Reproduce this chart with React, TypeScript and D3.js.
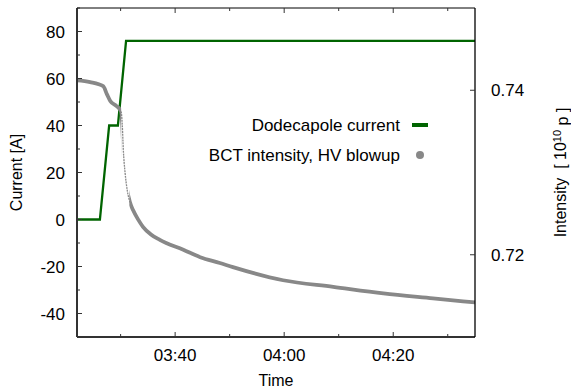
import React from "react";
import * as d3 from "d3";

// time in minutes after 03:00
const currentTime = [22, 26.2, 27.9, 29.5, 31.0, 95.0];
const currentAmps = [0, 0, 40, 40, 76, 76];

const bctTime = [22.0, 24.4, 26.8, 27.5, 28.1, 29.2, 29.7, 30.1, 30.3, 30.5, 30.8, 31.2, 31.7, 32.3, 33.2, 34.1, 35.5, 37.2, 41.5, 44.6, 48.2, 50.6, 59.8, 69.0, 78.2, 87.3, 95.0];
const bctIntensity = [0.7412, 0.7410, 0.7405, 0.7395, 0.7387, 0.7381, 0.7378, 0.7374, 0.7358, 0.7327, 0.7301, 0.7279, 0.7264, 0.7254, 0.7243, 0.7234, 0.7225, 0.7218, 0.7206, 0.7197, 0.7190, 0.7185, 0.7169, 0.7161, 0.7153, 0.7147, 0.7142];

const leftTicks = [-40, -20, 0, 20, 40, 60, 80];
const leftMinor = [-50, -30, -10, 10, 30, 50, 70, 90];
const rightTicks = [0.72, 0.74];
const timeTicks = [40, 60, 80];
const timeMinor = [30, 50, 70, 90];
const timeLabels = ["03:40", "04:00", "04:20"];

const W = 571, H = 389;
const L = 77, R = 475, T = 8, B = 337;
const font = "'Liberation Sans', Arial, sans-serif";

const App = () => {
  const x = d3.scaleLinear().domain([22, 95]).range([L, R]);
  const yl = d3.scaleLinear().domain([-50, 90]).range([B, T]);
  const yr = d3.scaleLinear().domain([0.71, 0.75]).range([B, T]);

  const greenLine = d3.line<number>().x((d, i) => x(currentTime[i])).y(d => yl(d));
  const grayLine = d3.line<number>()
    .x((d, i) => x(bctTime[i]))
    .y(d => yr(d))
    .curve(d3.curveMonotoneX);
  const grayPath = grayLine(bctIntensity) || "";
  // thin where the beam is lost quickly (sparse samples)
  const thinFrom = x(30.1), thinTo = x(31.6);

  return (
    <svg width={W} height={H} style={{ position: "absolute", left: 0, top: 0 }} fontFamily={font}>
      <rect width={W} height={H} fill="#fff" />
      <defs>
        <clipPath id="plot"><rect x={L} y={T} width={R - L} height={B - T} /></clipPath>
        <clipPath id="dense">
          <rect x={L} y={T} width={thinFrom - L} height={B - T} />
          <rect x={thinTo} y={T} width={R - thinTo} height={B - T} />
        </clipPath>
      </defs>
      <g clipPath="url(#plot)">
        <path d={greenLine(currentAmps) || ""} fill="none" stroke="#006400" strokeWidth={2.3} />
        <path d={grayPath} fill="none" stroke="#8a8a8a" strokeWidth={1.3} strokeDasharray="2 0.8" />
        <g clipPath="url(#dense)">
          <path d={grayPath} fill="none" stroke="#888" strokeWidth={3.8} />
        </g>
      </g>

      {/* frame */}
      <line x1={L} x2={L} y1={T} y2={B} stroke="#333" strokeWidth={2} />
      <line x1={L} x2={R} y1={B} y2={B} stroke="#333" strokeWidth={2} />
      <line x1={L} x2={R} y1={T} y2={T} stroke="#000" strokeWidth={1} />
      <line x1={R} x2={R} y1={T} y2={B} stroke="#000" strokeWidth={1.3} />

      {/* left axis */}
      {leftTicks.map(v => (
        <g key={"l" + v}>
          <line x1={L} x2={L + 5} y1={yl(v)} y2={yl(v)} stroke="#333" />
          <text x={65} y={yl(v)} dy="0.36em" textAnchor="end" fontSize={17}>{v}</text>
        </g>
      ))}
      {leftMinor.map(v => (
        <line key={"lm" + v} x1={L} x2={L + 3} y1={yl(v)} y2={yl(v)} stroke="#333" />
      ))}

      {/* right axis */}
      {rightTicks.map(v => (
        <g key={"r" + v}>
          <line x1={R} x2={R - 5} y1={yr(v)} y2={yr(v)} stroke="#333" />
          <text x={491} y={yr(v)} dy="0.36em" fontSize={17}>{d3.format(".2f")(v)}</text>
        </g>
      ))}

      {/* time axis */}
      {timeTicks.map((v, i) => (
        <g key={"t" + v}>
          <line x1={x(v)} x2={x(v)} y1={B} y2={B - 5} stroke="#333" />
          <line x1={x(v)} x2={x(v)} y1={T} y2={T + 5} stroke="#333" />
          <text x={x(v)} y={355} dy="0.36em" textAnchor="middle" fontSize={17}>{timeLabels[i]}</text>
        </g>
      ))}
      {timeMinor.map(v => (
        <g key={"tm" + v}>
          <line x1={x(v)} x2={x(v)} y1={B} y2={B - 3} stroke="#333" />
          <line x1={x(v)} x2={x(v)} y1={T} y2={T + 3} stroke="#333" />
        </g>
      ))}

      <text x={(L + R) / 2} y={380} dy="0.36em" textAnchor="middle" fontSize={16}>Time</text>
      <text transform={`translate(16,${(T + B) / 2}) rotate(-90)`} textAnchor="middle" dy="0.36em" fontSize={16}>Current [A]</text>
      <text transform={`translate(560,${(T + B) / 2}) rotate(-90)`} textAnchor="middle" dy="0.36em" fontSize={16}>
        Intensity{"\u00a0\u00a0"}[ 10<tspan dy="-0.45em" fontSize={11}>10</tspan><tspan dy="0.45em"> p ]</tspan>
      </text>

      {/* legend */}
      <text x={400} y={125} dy="0.36em" textAnchor="end" fontSize={17}>Dodecapole current</text>
      <line x1={412} x2={428} y1={125} y2={125} stroke="#006400" strokeWidth={4} />
      <text x={400} y={155} dy="0.36em" textAnchor="end" fontSize={17}>BCT intensity, HV blowup</text>
      <circle cx={420} cy={155} r={4} fill="#888" />
    </svg>
  );
};

export default App;
